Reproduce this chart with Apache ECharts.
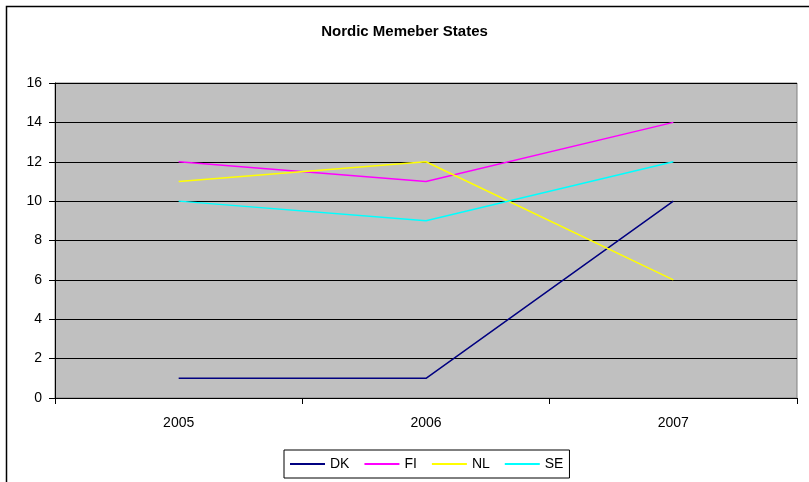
<!DOCTYPE html>
<html>
<head>
<meta charset="utf-8">
<script src="https://cdn.jsdelivr.net/npm/echarts@6/dist/echarts.min.js"></script>
<style>
  html, body { margin: 0; padding: 0; background: #fff; }
  #chart { width: 809px; height: 482px; }
</style>
</head>
<body>
<div id="chart"></div>
<script>
// chart data
const years = ["2005", "2006", "2007"];
const dk = [1, 1, 10];
const fi = [12, 11, 14];
const nl = [11, 12, 6];
const se = [10, 9, 12];

const seriesNames = ["DK", "FI", "NL", "SE"];
const seriesColors = ["#000080", "#FF00FF", "#FFFF00", "#00FFFF"];
const seriesData = [dk, fi, nl, se];

const chart = echarts.init(document.getElementById("chart"));
const font = "'Liberation Sans', Arial, sans-serif";

const option = {
	animation: false,
	textStyle: { fontFamily: font },
	title: {
		text: "Nordic Memeber States",
		left: "center",
		top: 19,
		textStyle: { fontFamily: font, fontSize: 15, fontWeight: "bold", color: "#000" },
	},
	legend: {
		left: 284,
		top: 450,
		padding: [6, 6],
		icon: "rect",
		itemWidth: 35,
		itemHeight: 2,
		itemGap: 15,
		borderColor: "#000",
		borderWidth: 1,
		backgroundColor: "#fff",
		textStyle: { fontFamily: font, fontSize: 14, color: "#000", lineHeight: 16 },
		data: seriesNames,
	},
	grid: {
		left: 55,
		right: 12,
		top: 83,
		bottom: 84,
		show: true,
		backgroundColor: "#C0C0C0",
		borderColor: "#808080",
		borderWidth: 1,
	},
	xAxis: {
		type: "category",
		data: years,
		boundaryGap: true,
		axisLine: { lineStyle: { color: "#000", width: 1 } },
		axisTick: { show: true, length: 6, inside: false, lineStyle: { color: "#000" } },
		axisLabel: { margin: 18, fontSize: 14, color: "#000", fontFamily: font },
	},
	yAxis: {
		type: "value",
		min: 0,
		max: 16,
		interval: 2,
		axisLine: { show: true, lineStyle: { color: "#000", width: 1 } },
		axisTick: { show: true, length: 6, lineStyle: { color: "#000" } },
		axisLabel: { margin: 13, fontSize: 14, color: "#000", fontFamily: font },
		splitLine: { show: true, lineStyle: { color: "#000", width: 1 } },
	},
	series: seriesNames.map((name, i) => ({
		name: name,
		type: "line",
		data: seriesData[i],
		symbol: "none",
		color: seriesColors[i],
		lineStyle: { width: 1.5, color: seriesColors[i] },
	})),
	graphic: [
		{
			type: "rect",
			left: 4,
			top: 4,
			shape: { width: 900, height: 600 },
			style: { fill: "none", stroke: "#000", lineWidth: 1.5 },
			silent: true,
			z: 100,
		},
	],
};

chart.setOption(option);
</script>
</body>
</html>
